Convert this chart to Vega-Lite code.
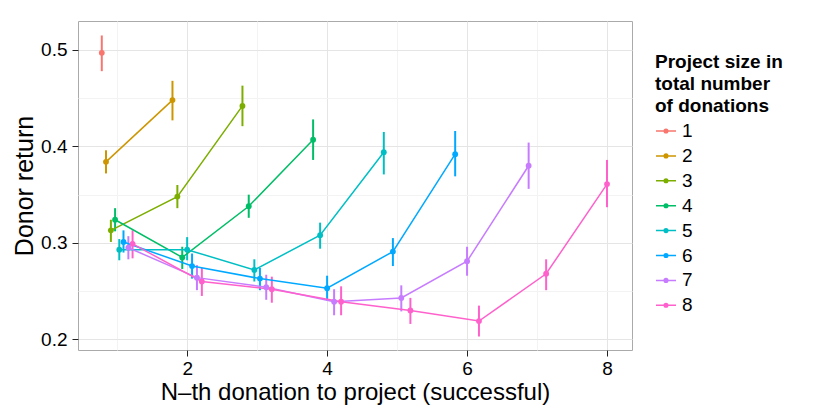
{
  "$schema": "https://vega.github.io/schema/vega-lite/v6.json",
  "width": 554,
  "height": 329,
  "autosize": {"type": "none"},
  "padding": {"left": 78, "top": 21, "right": 198, "bottom": 65},
  "background": "white",
  "config": {
    "view": {"stroke": "#aaaaaa", "strokeWidth": 1},
    "font": "Liberation Sans",
    "axis": {
      "domain": false,
      "tickColor": "#222222",
      "tickSize": 6,
      "labelColor": "black",
      "labelFontSize": 19,
      "titleColor": "black",
      "titleFontWeight": "normal"
    },
    "legend": {
      "orient": "none",
      "legendX": 577,
      "legendY": 32,
      "titleFontSize": 19,
      "titleFontWeight": "bold",
      "titleColor": "black",
      "titleLineHeight": 22,
      "titlePadding": 4,
      "titleLimit": 300,
      "labelFontSize": 19,
      "labelColor": "black",
      "labelOffset": 5,
      "rowPadding": 3.9,
      "symbolType": "M-1,0H1M0.18,0A0.18,0.18,0,1,1,-0.18,0A0.18,0.18,0,1,1,0.18,0ZM0.08,0A0.08,0.08,0,1,1,-0.08,0A0.08,0.08,0,1,1,0.08,0Z",
      "symbolSize": 400,
      "symbolStrokeWidth": 1.5
    }
  },
  "data": {
    "values": [
      {"size": "1", "n": 1, "x": 0.78, "y": 0.497, "lo": 0.478, "hi": 0.515},
      {"size": "2", "n": 1, "x": 0.84, "y": 0.384, "lo": 0.372, "hi": 0.396},
      {"size": "2", "n": 2, "x": 1.79, "y": 0.448, "lo": 0.427, "hi": 0.468},
      {"size": "3", "n": 1, "x": 0.91, "y": 0.313, "lo": 0.301, "hi": 0.324},
      {"size": "3", "n": 2, "x": 1.86, "y": 0.348, "lo": 0.336, "hi": 0.360},
      {"size": "3", "n": 3, "x": 2.79, "y": 0.442, "lo": 0.421, "hi": 0.463},
      {"size": "4", "n": 1, "x": 0.97, "y": 0.324, "lo": 0.312, "hi": 0.336},
      {"size": "4", "n": 2, "x": 1.93, "y": 0.285, "lo": 0.273, "hi": 0.296},
      {"size": "4", "n": 3, "x": 2.88, "y": 0.338, "lo": 0.326, "hi": 0.350},
      {"size": "4", "n": 4, "x": 3.80, "y": 0.407, "lo": 0.386, "hi": 0.428},
      {"size": "5", "n": 1, "x": 1.03, "y": 0.293, "lo": 0.282, "hi": 0.304},
      {"size": "5", "n": 2, "x": 2.00, "y": 0.293, "lo": 0.282, "hi": 0.306},
      {"size": "5", "n": 3, "x": 2.96, "y": 0.272, "lo": 0.260, "hi": 0.283},
      {"size": "5", "n": 4, "x": 3.90, "y": 0.308, "lo": 0.294, "hi": 0.321},
      {"size": "5", "n": 5, "x": 4.81, "y": 0.394, "lo": 0.371, "hi": 0.415},
      {"size": "6", "n": 1, "x": 1.09, "y": 0.301, "lo": 0.290, "hi": 0.313},
      {"size": "6", "n": 2, "x": 2.07, "y": 0.276, "lo": 0.263, "hi": 0.289},
      {"size": "6", "n": 3, "x": 3.04, "y": 0.263, "lo": 0.251, "hi": 0.274},
      {"size": "6", "n": 4, "x": 4.00, "y": 0.253, "lo": 0.240, "hi": 0.266},
      {"size": "6", "n": 5, "x": 4.94, "y": 0.291, "lo": 0.276, "hi": 0.305},
      {"size": "6", "n": 6, "x": 5.83, "y": 0.392, "lo": 0.369, "hi": 0.416},
      {"size": "7", "n": 1, "x": 1.16, "y": 0.295, "lo": 0.283, "hi": 0.307},
      {"size": "7", "n": 2, "x": 2.14, "y": 0.264, "lo": 0.251, "hi": 0.277},
      {"size": "7", "n": 3, "x": 3.13, "y": 0.254, "lo": 0.241, "hi": 0.267},
      {"size": "7", "n": 4, "x": 4.10, "y": 0.239, "lo": 0.225, "hi": 0.252},
      {"size": "7", "n": 5, "x": 5.06, "y": 0.243, "lo": 0.229, "hi": 0.256},
      {"size": "7", "n": 6, "x": 6.00, "y": 0.281, "lo": 0.266, "hi": 0.296},
      {"size": "7", "n": 7, "x": 6.88, "y": 0.380, "lo": 0.356, "hi": 0.404},
      {"size": "8", "n": 1, "x": 1.22, "y": 0.299, "lo": 0.284, "hi": 0.313},
      {"size": "8", "n": 2, "x": 2.21, "y": 0.260, "lo": 0.245, "hi": 0.274},
      {"size": "8", "n": 3, "x": 3.21, "y": 0.252, "lo": 0.238, "hi": 0.265},
      {"size": "8", "n": 4, "x": 4.20, "y": 0.239, "lo": 0.225, "hi": 0.255},
      {"size": "8", "n": 5, "x": 5.19, "y": 0.230, "lo": 0.216, "hi": 0.243},
      {"size": "8", "n": 6, "x": 6.17, "y": 0.219, "lo": 0.203, "hi": 0.235},
      {"size": "8", "n": 7, "x": 7.13, "y": 0.268, "lo": 0.251, "hi": 0.283},
      {"size": "8", "n": 8, "x": 8.00, "y": 0.361, "lo": 0.337, "hi": 0.386}
    ]
  },
  "encoding": {
    "x": {
      "field": "x",
      "type": "quantitative",
      "scale": {"domain": [0.44, 8.357], "nice": false, "zero": false},
      "axis": {
        "title": "N\u2013th donation to project (successful)",
        "titleFontSize": 24,
        "titlePadding": 2,
        "labelPadding": 3,
        "values": [1, 2, 3, 4, 5, 6, 7, 8],
        "labelExpr": "datum.value % 2 == 0 ? datum.label : ''",
        "tickOpacity": {"condition": {"test": "datum.value % 2 == 0", "value": 1}, "value": 0},
        "gridColor": {"condition": {"test": "datum.value % 2 == 0", "value": "#e5e5e5"}, "value": "#f3f3f3"}
      }
    },
    "y": {
      "field": "y",
      "type": "quantitative",
      "scale": {"domain": [0.189, 0.53], "nice": false, "zero": false},
      "axis": {
        "title": "Donor return",
        "titleFontSize": 25,
        "titlePadding": 3,
        "labelPadding": 5,
        "values": [0.2, 0.25, 0.3, 0.35, 0.4, 0.45, 0.5],
        "format": ".1f",
        "labelExpr": "round(datum.value * 100) % 10 == 0 ? datum.label : ''",
        "tickOpacity": {"condition": {"test": "round(datum.value * 100) % 10 == 0", "value": 1}, "value": 0},
        "gridColor": {"condition": {"test": "round(datum.value * 100) % 10 == 0", "value": "#e5e5e5"}, "value": "#f3f3f3"}
      }
    }
  },
  "layer": [
    {
      "mark": {"type": "rule", "strokeWidth": 2},
      "encoding": {
        "y": {"field": "lo", "type": "quantitative"},
        "y2": {"field": "hi"},
        "stroke": {
          "field": "size",
          "type": "nominal",
          "scale": {"range": ["#F8766D", "#CD9600", "#7CAE00", "#00BE67", "#00BFC4", "#00A9FF", "#C77CFF", "#FF61CC"]},
          "legend": {"title": ["Project size in", "total number", "of donations"]}
        }
      }
    },
    {
      "mark": {"type": "line", "strokeWidth": 1.5},
      "encoding": {
        "stroke": {
          "field": "size",
          "type": "nominal",
          "legend": {"title": ["Project size in", "total number", "of donations"]}
        },
        "order": {"field": "n"}
      }
    },
    {
      "mark": {"type": "point", "filled": true, "size": 34, "opacity": 1, "strokeWidth": 0},
      "encoding": {
        "fill": {
          "field": "size",
          "type": "nominal",
          "scale": {"range": ["#F8766D", "#CD9600", "#7CAE00", "#00BE67", "#00BFC4", "#00A9FF", "#C77CFF", "#FF61CC"]},
          "legend": null
        }
      }
    }
  ]
}
